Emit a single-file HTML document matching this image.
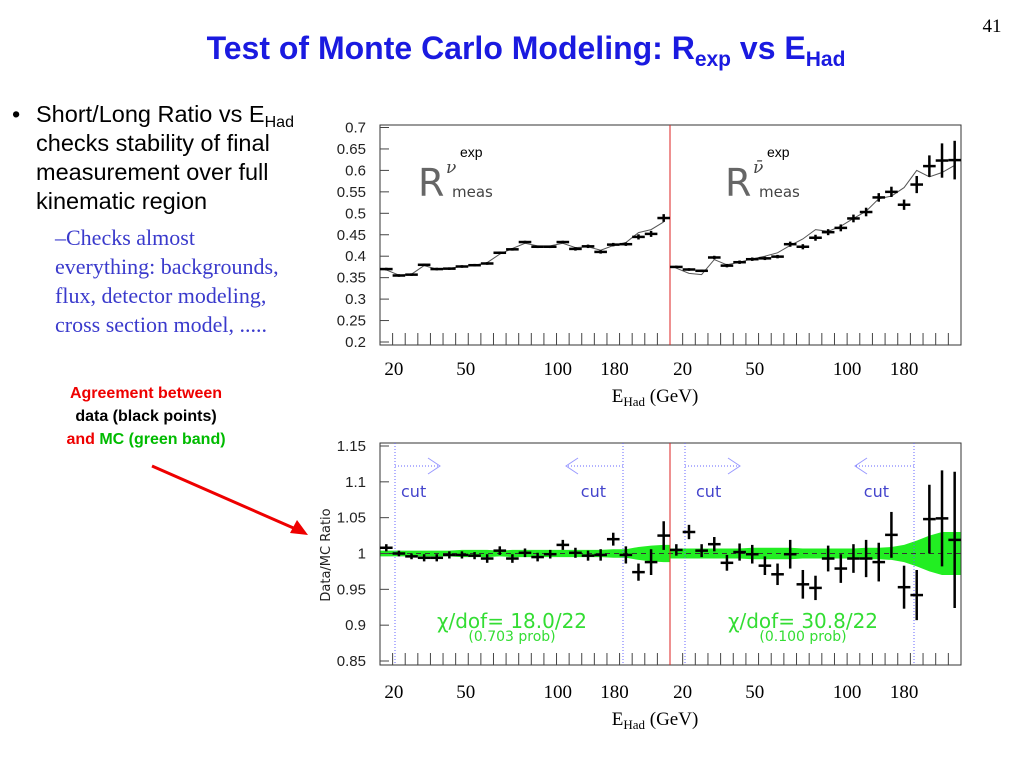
<!DOCTYPE html>
<html><head><meta charset="utf-8"><style>
html,body{margin:0;padding:0;background:#fff;width:1024px;height:768px;overflow:hidden}
svg{display:block}
.ax{font-family:"Liberation Sans",sans-serif;font-size:15px;fill:#222}
.ser{font-family:"Liberation Serif",serif;font-size:19px;fill:#000}
</style></head><body>
<svg id="s" width="1024" height="768" xmlns="http://www.w3.org/2000/svg">
<text x="992" y="32" class="ser" font-size="17" text-anchor="middle">41</text>
<text x="526" y="59" font-family="Liberation Sans,sans-serif" font-weight="bold" font-size="32" fill="#1a1ae0" text-anchor="middle">Test of Monte Carlo Modeling:  R<tspan font-size="21" dy="7">exp</tspan><tspan dy="-7"> vs E</tspan><tspan font-size="21" dy="7">Had</tspan></text>
<g font-family="Liberation Sans,sans-serif" font-size="23.5" fill="#000">
<text x="12" y="122">•</text>
<text x="36" y="122">Short/Long Ratio vs E<tspan font-size="16" dy="5">Had</tspan></text>
<text x="36" y="151">checks stability of final</text>
<text x="36" y="180">measurement over full</text>
<text x="36" y="209">kinematic region</text>
</g>
<g font-family="Liberation Serif,serif" font-size="22" fill="#3a3acc">
<text x="55" y="245">–Checks almost</text>
<text x="55" y="274">everything: backgrounds,</text>
<text x="55" y="303">flux, detector modeling,</text>
<text x="55" y="332">cross section model, .....</text>
</g>
<g font-family="Liberation Sans,sans-serif" font-weight="bold" font-size="16" text-anchor="middle">
<text x="146" y="398" fill="#e00">Agreement between</text>
<text x="146" y="421" fill="#000">data (black points)</text>
<text x="146" y="444"><tspan fill="#e00">and </tspan><tspan fill="#0b0">MC</tspan><tspan fill="#0b0"> (green band)</tspan></text>
</g>
<line x1="152" y1="466" x2="298" y2="530" stroke="#e00" stroke-width="3"/>
<polygon points="308,535 290,533 297,520" fill="#e00"/>
<g id="top"></g><g id="bot"></g>
</svg>
<script>
// Top panel data (23 bins per half: nu, nubar)
const rNu=[0.370,0.355,0.357,0.380,0.370,0.371,0.376,0.379,0.383,0.408,0.416,0.433,0.422,0.422,0.433,0.417,0.423,0.410,0.427,0.428,0.445,0.452,0.489];
const rNuErr=[0.003,0.003,0.003,0.003,0.003,0.003,0.003,0.003,0.003,0.003,0.003,0.003,0.003,0.003,0.003,0.004,0.004,0.004,0.004,0.004,0.006,0.007,0.009];
const rNuBar=[0.375,0.369,0.366,0.397,0.378,0.386,0.393,0.395,0.399,0.428,0.422,0.443,0.456,0.466,0.488,0.503,0.537,0.550,0.520,0.567,0.610,0.623,0.624];
const rNuBarErr=[0.003,0.003,0.003,0.004,0.004,0.004,0.004,0.004,0.004,0.006,0.006,0.007,0.007,0.008,0.009,0.010,0.010,0.012,0.012,0.020,0.025,0.040,0.045];
const mcNu=[0.368,0.356,0.358,0.378,0.370,0.372,0.376,0.379,0.385,0.405,0.418,0.430,0.424,0.424,0.430,0.420,0.422,0.414,0.425,0.432,0.455,0.462,0.480];
const mcNuBar=[0.372,0.360,0.357,0.392,0.380,0.386,0.394,0.400,0.408,0.425,0.440,0.462,0.458,0.470,0.488,0.505,0.534,0.540,0.560,0.600,0.585,0.595,0.612];
// Bottom panel data
const dNu=[1.008,1.000,0.996,0.994,0.994,0.998,0.998,0.997,0.993,1.004,0.993,1.001,0.995,0.999,1.012,1.001,0.997,0.998,1.020,0.998,0.974,0.988,1.025];
const dNuErr=[0.005,0.004,0.004,0.005,0.005,0.005,0.005,0.005,0.006,0.006,0.006,0.006,0.006,0.006,0.007,0.007,0.007,0.008,0.009,0.012,0.012,0.018,0.020];
const dNuBar=[1.005,1.030,1.004,1.013,0.987,1.002,0.999,0.983,0.971,0.999,0.957,0.952,0.993,0.979,0.993,0.993,0.988,1.026,0.953,0.942,1.048,1.049,1.019];
const dNuBarErr=[0.008,0.010,0.009,0.010,0.011,0.012,0.013,0.013,0.015,0.020,0.020,0.017,0.018,0.020,0.020,0.026,0.027,0.032,0.030,0.035,0.048,0.067,0.095];
const bandNu=[0.004,0.004,0.004,0.004,0.004,0.004,0.005,0.005,0.005,0.004,0.005,0.005,0.005,0.005,0.005,0.005,0.005,0.005,0.006,0.006,0.009,0.011,0.012];
const bandNuBar=[0.007,0.007,0.007,0.007,0.007,0.007,0.008,0.008,0.008,0.008,0.007,0.007,0.007,0.007,0.007,0.008,0.008,0.009,0.012,0.018,0.025,0.030,0.030];
const xLabels=["20","50","100","180","20","50","100","180"];
const xLabelBins=[0.6,6.3,13.6,18.1,23.5,29.2,36.5,41];
const topTicks=["0.7","0.65","0.6","0.55","0.5","0.45","0.4","0.35","0.3","0.25","0.2"];
const botTicks=["1.15","1.1","1.05","1","0.95","0.9","0.85"];

const NS="http://www.w3.org/2000/svg";
function mk(p,t,a){const e=document.createElementNS(NS,t);for(const k in a)e.setAttribute(k,a[k]);p.appendChild(e);return e;}
const X0=380,X1=961,XR=670,NB=23;
function bx(i){return i<NB? X0+(i+0.5)*(XR-X0)/NB : XR+(i-NB+0.5)*(X1-XR)/NB;}
function edge(i){return i<=NB? X0+i*(XR-X0)/NB : XR+(i-NB)*(X1-XR)/NB;}
const bw=(XR-X0)/NB;

function frame(g,yT,yB,ticks,y){
  let r=mk(g,'rect',{x:X0,y:yT,width:X1-X0,height:yB-yT,fill:'none',stroke:'#333','stroke-width':1});
  
  for(let i=1;i<2*NB;i++){const x=edge(i);mk(g,'line',{x1:x,y1:yB,x2:x,y2:yB-12,stroke:'#444'});}
  ticks.forEach(t=>{const v=parseFloat(t),yy=y(v);
    mk(g,'line',{x1:X0,y1:yy,x2:X0+9,y2:yy,stroke:'#444'});
    let tx=mk(g,'text',{x:X0-14,y:yy+5,'text-anchor':'end',class:'ax'});tx.textContent=t;
    
  });
  let rl=mk(g,'line',{x1:XR,y1:yT,x2:XR,y2:yB,stroke:'#d22','stroke-width':1});
  
}
function xlabels(g,yy){
  xLabels.forEach((t,i)=>{let tx=mk(g,'text',{x:bx(xLabelBins[i]),y:yy,'text-anchor':'middle',class:'ser'});tx.textContent=t;
    });
}
function cross(g,x,y,hw,yt,yb,w){mk(g,'line',{x1:x-hw,y1:y,x2:x+hw,y2:y,stroke:'#000','stroke-width':w});mk(g,'line',{x1:x,y1:yt,x2:x,y2:yb,stroke:'#000','stroke-width':w});}

// TOP
const gt=document.getElementById('top');

const yt=v=>127.5+(0.7-v)/0.5*214.5;
frame(gt,125,345,topTicks,yt);
function mcPath(arr,off){let d='';arr.forEach((v,i)=>{d+=(i?'L':'M')+bx(i+off).toFixed(1)+','+yt(v).toFixed(1);});return d;}
let p1=mk(gt,'path',{d:mcPath(mcNu,0),fill:'none',stroke:'#555','stroke-width':1});
let p2=mk(gt,'path',{d:mcPath(mcNuBar,NB),fill:'none',stroke:'#555','stroke-width':1});
rNu.forEach((v,i)=>{const g=mk(gt,'g',{});const e=rNuErr[i];cross(g,bx(i),yt(v),bw/2,yt(v+e),yt(v-e),2.5);});
rNuBar.forEach((v,i)=>{const g=mk(gt,'g',{});const e=rNuBarErr[i];cross(g,bx(i+NB),yt(v),bw/2,yt(v+e),yt(v-e),2.5);});
[[418,'ν'],[725,'ν̄']].forEach(([x,s])=>{
  let t=mk(gt,'text',{x:x,y:196,'font-family':'DejaVu Sans,sans-serif','font-size':38,fill:'#666'});t.textContent='R';
  let s1=mk(gt,'text',{x:x+28,y:173,'font-family':'DejaVu Serif,serif','font-style':'italic','font-size':17,fill:'#444'});s1.textContent=s;
  let s2=mk(gt,'text',{x:x+34,y:197,'font-family':'DejaVu Sans,sans-serif','font-size':15,fill:'#444'});s2.textContent='meas';
  let s3=mk(gt,'text',{x:x+42,y:157,'font-family':'Liberation Sans,sans-serif','font-size':14,fill:'#000'});s3.textContent='exp';
});
xlabels(gt,375);
let xt1=mk(gt,'text',{x:655,y:402,'text-anchor':'middle',class:'ser'});xt1.innerHTML='E<tspan font-size="13" dy="4">Had</tspan><tspan dy="-4"> (GeV)</tspan>';


// BOTTOM
const gb=document.getElementById('bot');

const yb=v=>446+(1.15-v)/0.3*215;
function bandPath(vals,off){let up='',dn='';const n=vals.length;
  for(let i=0;i<n;i++){const x=bx(i+off);up+=(i?'L':'M')+(i?x:x-bw/2).toFixed(1)+','+yb(1+vals[i]).toFixed(1);}
  up+='L'+(bx(n-1+off)+bw/2).toFixed(1)+','+yb(1+vals[n-1]).toFixed(1);
  dn+='L'+(bx(n-1+off)+bw/2).toFixed(1)+','+yb(1-vals[n-1]).toFixed(1);
  for(let i=n-1;i>=0;i--){const x=bx(i+off);dn+='L'+(i?x:x-bw/2).toFixed(1)+','+yb(1-vals[i]).toFixed(1);}
  return up+dn+'Z';}
let b1=mk(gb,'path',{d:bandPath(bandNu,0),fill:'#22ee22'});
let b2=mk(gb,'path',{d:bandPath(bandNuBar,NB),fill:'#22ee22'});
mk(gb,'line',{x1:X0,y1:yb(1),x2:X1,y2:yb(1),stroke:'#333','stroke-dasharray':'5,4'});
frame(gb,443,665,botTicks,yb);
[395,623,685,914].forEach(x=>{let l=mk(gb,'line',{x1:x,y1:443,x2:x,y2:665,stroke:'#66f','stroke-dasharray':'1,2'});});
[[395,440,1],[623,566,-1],[685,740,1],[914,855,-1]].forEach(([a,b,d])=>{
  mk(gb,'line',{x1:a,y1:466,x2:b,y2:466,stroke:'#66f','stroke-dasharray':'1,2'});
  mk(gb,'path',{d:`M${b-d*12},458L${b},466L${b-d*12},474`,fill:'none',stroke:'#99f'});
});
[[401,'start'],[606,'end'],[696,'start'],[889,'end']].forEach(([x,a])=>{let t=mk(gb,'text',{x:x,y:497,'text-anchor':a,'font-family':'DejaVu Sans,sans-serif','font-size':16,fill:'#44c'});t.textContent='cut';});
dNu.forEach((v,i)=>{const g=mk(gb,'g',{});const e=dNuErr[i];cross(g,bx(i),yb(v),bw/2,yb(v+e),yb(v-e),2.5);});
dNuBar.forEach((v,i)=>{const g=mk(gb,'g',{});const e=dNuBarErr[i];cross(g,bx(i+NB),yb(v),bw/2,yb(v+e),yb(v-e),2.5);});
[[512,'χ/dof= 18.0/22','(0.703 prob)'],[803,'χ/dof= 30.8/22','(0.100 prob)']].forEach(([x,a,b])=>{
  let t=mk(gb,'text',{x:x,y:628,'text-anchor':'middle','font-family':'DejaVu Sans,sans-serif','font-size':20,fill:'#3d3'});t.textContent=a;
  let t2=mk(gb,'text',{x:x,y:641,'text-anchor':'middle','font-family':'DejaVu Sans,sans-serif','font-size':14,fill:'#3d3'});t2.textContent=b;
});
let yl=mk(gb,'text',{x:0,y:0,transform:'translate(330,555) rotate(-90)','text-anchor':'middle','font-family':'DejaVu Sans,sans-serif','font-size':13,fill:'#222'});yl.textContent='Data/MC Ratio';

xlabels(gb,698);
let xt2=mk(gb,'text',{x:655,y:725,'text-anchor':'middle',class:'ser'});xt2.innerHTML='E<tspan font-size="13" dy="4">Had</tspan><tspan dy="-4"> (GeV)</tspan>';

</script>
</body></html>
